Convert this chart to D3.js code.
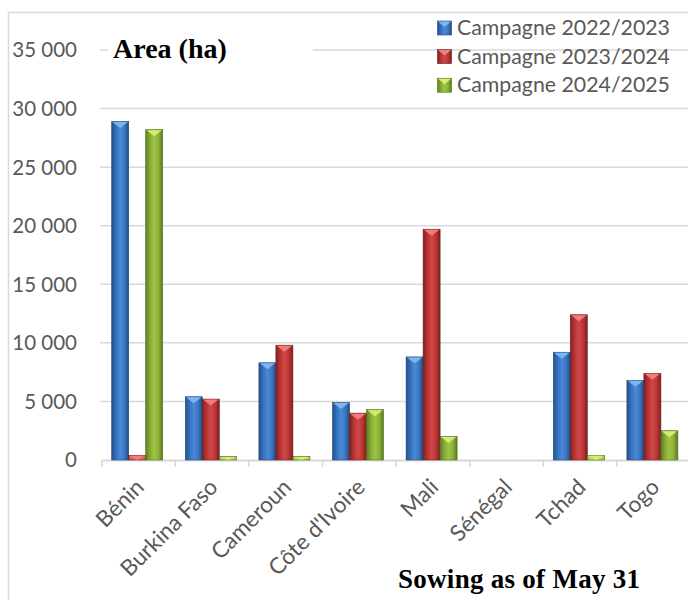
<!DOCTYPE html>
<html><head><meta charset="utf-8">
<script src="https://cdn.jsdelivr.net/npm/d3@7"></script>
<style>html,body{margin:0;padding:0;background:#fff;}svg{display:block;}</style>
</head><body>
<script>
const categories = ["Bénin","Burkina Faso","Cameroun","Côte d'Ivoire","Mali","Sénégal","Tchad","Togo"];
const seriesNames = ["Campagne 2022/2023","Campagne 2023/2024","Campagne 2024/2025"];
const values2022 = [28900, 5400, 8300, 4900, 8800, 0, 9200, 6800];
const values2023 = [400, 5200, 9800, 4000, 19700, 0, 12400, 7400];
const values2024 = [28200, 300, 300, 4300, 2000, 0, 400, 2500];
const yTicks = [0, 5000, 10000, 15000, 20000, 25000, 30000, 35000];
const titleText = "Area (ha)";
const subtitleText = "Sowing as of May 31";

const W = 688, H = 600;
const svg = d3.select("body").append("svg").attr("width", W).attr("height", H);
const defs = svg.append("defs");

const palette = [
  {stops:["#24508a","#3470be","#4a89d6","#3b78c4","#224a80"], tri:"#7db7f2", edge:"#1f4677"},
  {stops:["#7e2222","#b83434","#d04848","#bd3636","#7a2020"], tri:"#f27f7f", edge:"#6e1c1c"},
  {stops:["#5e7d22","#86ab34","#9ec444","#8bb138","#5a7820"], tri:"#d6ee72", edge:"#50701c"}
];
palette.forEach((p,i)=>{
  const g = defs.append("linearGradient").attr("id","g"+i).attr("x1","0").attr("x2","1").attr("y1","0").attr("y2","0");
  [0,0.25,0.5,0.75,1].forEach((o,k)=>g.append("stop").attr("offset",o).attr("stop-color",p.stops[k]));
});

// outer frame
svg.append("rect").attr("x",8.5).attr("y",12.5).attr("width",W).attr("height",H)
  .attr("fill","none").attr("stroke","#d9d9d9").attr("stroke-width",1.5);

const x0 = d3.scaleBand().domain(categories).range([101.7, 690.5]).paddingInner(0).paddingOuter(0);
const x1 = d3.scaleBand().domain(seriesNames).range([10, 61]).paddingInner(0);
const y = d3.scaleLinear().domain([0, 35000]).range([460, 50]);

// gridlines
svg.append("g").selectAll("line").data(yTicks.filter(d=>d>0)).join("line")
  .attr("x1",100).attr("x2",W).attr("y1",d=>y(d)).attr("y2",d=>y(d))
  .attr("stroke","#d9d9d9").attr("stroke-width",1.5);

// y labels
const fmt = d => d3.format(",")(d).replace(/,/g," ");
svg.append("g").selectAll("text").data(yTicks).join("text")
  .attr("x",77).attr("y",d=>y(d)).attr("dy","0.36em")
  .attr("text-anchor","end").attr("font-family","Lato, 'Open Sans', sans-serif")
  .attr("font-size",20.5).attr("fill","#595959").text(fmt);

// x axis
const xAxis = d3.axisBottom(x0).tickSize(0).tickFormat("");
const ax = svg.append("g").attr("transform","translate(0,460)").call(xAxis);
ax.select(".domain").attr("stroke","#d9d9d9").attr("stroke-width",2);
const bounds = categories.map(c=>x0(c)).concat([x0(categories[categories.length-1])+x0.bandwidth()]);
svg.append("g").selectAll("line").data(bounds).join("line")
  .attr("x1",d=>d).attr("x2",d=>d).attr("y1",460).attr("y2",467)
  .attr("stroke","#d9d9d9").attr("stroke-width",1.5);

// bars
const seriesData = [values2022, values2023, values2024];
const bars = [];
categories.forEach((c,ci)=>{
  seriesNames.forEach((s,si)=>{
    bars.push({c, s, si, v: seriesData[si][ci]});
  });
});
const bw = x1.bandwidth();
const bg = svg.append("g");
bars.filter(d=>d.v>0).forEach(d=>{
  const bx = x0(d.c) + x1(d.s);
  const by = y(d.v);
  const bh = y(0) - by;
  const g = bg.append("g");
  g.append("rect").attr("x",bx).attr("y",by).attr("width",bw).attr("height",bh)
    .attr("fill","url(#g"+d.si+")").attr("stroke",palette[d.si].edge).attr("stroke-width",0.6);
  const th = Math.min(6.5, bh);
  g.append("path").attr("d",`M${bx+0.8},${by+0.5} L${bx+bw-0.8},${by+0.5} L${bx+bw/2},${by+th} Z`)
    .attr("fill",palette[d.si].tri).attr("opacity",0.95);
  if (bh < 7) {
    g.append("rect").attr("x",bx+0.5).attr("y",by+0.5).attr("width",bw-1).attr("height",Math.max(bh-1,0.5))
      .attr("fill",palette[d.si].tri).attr("opacity",0.7);
  }
});

// x labels
svg.append("g").selectAll("text").data(categories).join("text")
  .attr("transform",c=>`translate(${x0(c)+x0.bandwidth()/2+7},${488.5}) rotate(-45)`)
  .attr("text-anchor","end").attr("font-family","Lato, 'Open Sans', sans-serif")
  .attr("font-size",22.5).attr("fill","#595959").text(c=>c);

// title with white box
svg.append("rect").attr("x",108).attr("y",34).attr("width",205).attr("height",32).attr("fill","#fff");
svg.append("text").attr("x",113).attr("y",58).attr("font-family","'Liberation Serif', 'DejaVu Serif', serif")
  .attr("font-weight","bold").attr("font-size",28).attr("fill","#000").text(titleText);

// legend
const leg = svg.append("g");
seriesNames.forEach((s,i)=>{
  const ly = 35 + i*28.6;
  leg.append("rect").attr("x",437.5).attr("y",ly-14).attr("width",14).attr("height",14)
    .attr("fill","url(#g"+i+")").attr("stroke",palette[i].edge).attr("stroke-width",0.6);
  leg.append("path").attr("d",`M${438},${ly-13.5} L${451},${ly-13.5} L${444.5},${ly-8} Z`).attr("fill",palette[i].tri);
  leg.append("text").attr("x",457).attr("y",ly).attr("font-family","Lato, 'Open Sans', sans-serif")
    .attr("font-size",21.3).attr("fill","#595959").text(s);
});

// subtitle
svg.append("text").attr("x",398).attr("y",588).attr("font-family","'Liberation Serif', 'DejaVu Serif', serif")
  .attr("font-weight","bold").attr("font-size",27).attr("textLength",242).attr("lengthAdjust","spacing")
  .attr("fill","#000").text(subtitleText);
</script>
</body></html>
